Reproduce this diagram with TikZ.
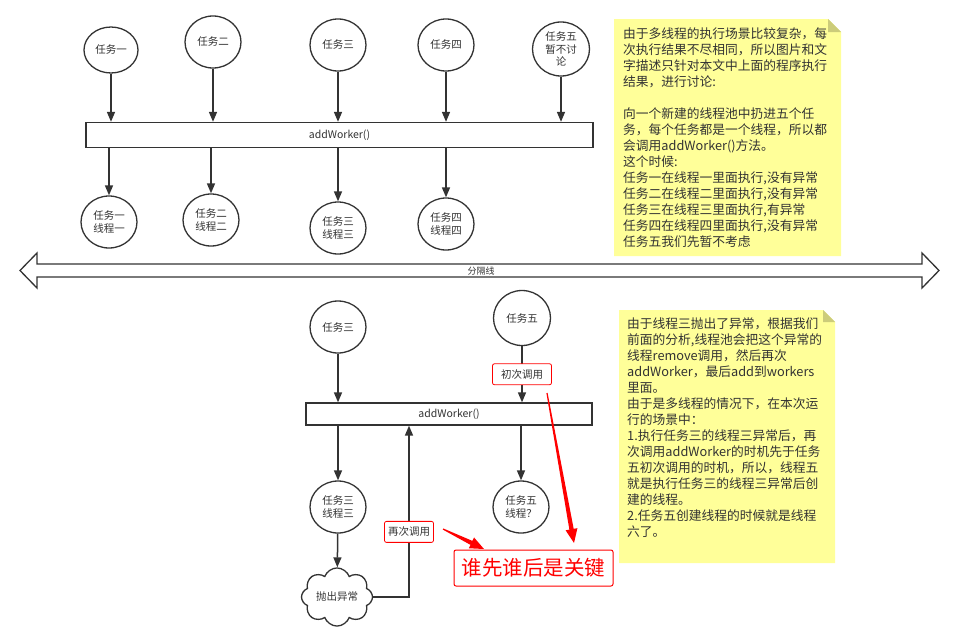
\documentclass[tikz,border=0pt]{standalone}
\usepackage{fontspec}
\setmainfont{Noto Sans CJK SC}
\usepackage{tikz}
\usetikzlibrary{arrows.meta,positioning,calc,shapes.geometric,shapes.symbols}
\definecolor{ink}{RGB}{51,51,51}
\definecolor{notefill}{RGB}{255,255,153}
\definecolor{notefold}{RGB}{204,204,122}
\definecolor{keyred}{RGB}{255,0,0}

% tapered red pointer: thin tail, wide head
\newcommand{\keyarrow}[2]{%
  \coordinate (hb) at ($(#2)!14pt!(#1)$);
  \fill[keyred] ($(#1)!0.6pt!90:(#2)$) -- ($(hb)!2.2pt!90:(#2)$)
    -- ($(hb)!6pt!90:(#2)$) -- (#2) -- ($(hb)!6pt!-90:(#2)$)
    -- ($(hb)!2.2pt!-90:(#2)$) -- ($(#1)!0.6pt!-90:(#2)$) -- cycle;}

\begin{document}
\begin{tikzpicture}[
  x=1pt, y=-1pt,
  task/.style={
    ellipse,
    draw=ink,
    line width=1.3pt,
    fill=white,
    minimum width=56pt,
    minimum height=52pt,
    inner sep=0pt,
    align=center,
    text=ink,
    font=\fontsize{10.5}{12.5}\selectfont
  },
  callbox/.style={
    draw=ink,
    line width=1.3pt,
    fill=white,
    minimum height=25pt,
    text=ink,
    font=\fontsize{10.5}{12.5}\selectfont
  },
  flow/.style={
    draw=ink,
    line width=1.5pt,
    -{Triangle[length=10pt,width=8pt]}
  },
  redtag/.style={
    draw=keyred,
    fill=white,
    line width=0.8pt,
    rounded corners=2pt,
    inner xsep=3pt,
    minimum height=21pt,
    text=ink,
    font=\fontsize{10.5}{12}\selectfont
  },
  keybox/.style={
    draw=keyred,
    line width=1pt,
    rounded corners=2pt,
    minimum width=159pt,
    minimum height=36pt,
    text=keyred,
    font=\fontsize{20.5}{24}\selectfont
  },
  notetext/.style={
    anchor=north west,
    align=left,
    inner sep=0pt,
    text=ink,
    font=\fontsize{12.75}{16}\selectfont
  }
]
\useasboundingbox (0,0) rectangle (963,635);

% upper part: five tasks into the pool
\node[task,minimum width=54pt,minimum height=46pt] (t1) at (111,50) {任务一};
\node[task] (t2) at (213,42) {任务二};
\node[task] (t3) at (338,45) {任务三};
\node[task] (t4) at (446,45) {任务四};
\node[task,minimum width=57pt,minimum height=54pt] (t5) at (561,49) {任务五\\暂不讨\\论};
\node[callbox,minimum width=507pt] (pool) at (339.5,135) {addWorker()};
\node[task] (r1) at (109,222) {任务一\\线程一};
\node[task] (r2) at (211,220) {任务二\\线程二};
\node[task] (r3) at (338,228) {任务三\\线程三};
\node[task] (r4) at (446,224) {任务四\\线程四};

\foreach \i in {1,...,5}
  \draw[flow] (t\i) -- (t\i |- pool.north);
\foreach \i in {1,...,4}
  \draw[flow] (r\i |- pool.south) -- (r\i);

% note on the right
\fill[notefill] (614,19) -- (828,19) -- (841,32) -- (841,256) -- (614,256) -- cycle;
\fill[notefold] (828,19) -- (841,32) -- (828,32) -- cycle;
\node[notetext] (note1) at (623,28) {由于多线程的执行场景比较复杂，每\\
次执行结果不尽相同，所以图片和文\\
字描述只针对本文中上面的程序执行\\
结果，进行讨论:\\[16pt]
向一个新建的线程池中扔进五个任\\
务，每个任务都是一个线程，所以都\\
会调用addWorker()方法。\\
这个时候:\\
任务一在线程一里面执行,没有异常\\
任务二在线程二里面执行,没有异常\\
任务三在线程三里面执行,有异常\\
任务四在线程四里面执行,没有异常\\
任务五我们先暂不考虑};

% separator
\draw[ink,line width=1.3pt,fill=white] (20,270.5) -- (37,253) -- (37,264) -- (922,264)
  -- (922,253) -- (939,270.5) -- (922,288) -- (922,277) -- (37,277) -- (37,288) -- cycle;
\node[text=ink,font=\fontsize{9}{10}\selectfont,inner sep=0pt] (sepl) at (481,271) {分隔线};

% lower part: task three fails, task five comes later
\node[task] (b3) at (338,327) {任务三};
\node[task,minimum width=57pt,minimum height=55pt] (b5) at (522,318) {任务五};
\node[callbox,minimum width=286pt,minimum height=22pt] (pool2) at (449,414) {addWorker()};
\node[task] (c3) at (338,507) {任务三\\线程三};
\node[task] (c5) at (521,507) {任务五\\线程？};
\node[cloud,cloud puffs=8,cloud puff arc=140,aspect=1.3,draw=ink,line width=1.3pt,
  minimum width=71pt,minimum height=52pt,inner sep=0pt,text=ink,
  font=\fontsize{10.5}{12.5}\selectfont] (err) at (337,597) {抛出异常};
\coordinate (back) at (409,0);

\draw[flow] (b3) -- (b3 |- pool2.north);
\draw[flow] (b5) -- node[redtag,minimum width=59pt] (first) {初次调用} (b5 |- pool2.north);
\draw[flow] (c3 |- pool2.south) -- (c3);
\draw[flow] (c5 |- pool2.south) -- (c5);
\draw[flow] (c3) -- (err);
\draw[flow] (err.east) -- (err.east -| back)
  -- node[redtag,minimum width=49pt,pos=0.38] (again) {再次调用} (back |- pool2.south);

\node[keybox] (key) at (533.5,568) {谁先谁后是关键};
\coordinate (tail1) at (443,529);
\coordinate (tip1) at (484,549);
\coordinate (tail2) at (547,393);
\coordinate (tip2) at (574,543);
\keyarrow{tail1}{tip1}
\keyarrow{tail2}{tip2}

% second note
\fill[notefill] (619,310) -- (823,310) -- (835,322) -- (835,563) -- (619,563) -- cycle;
\fill[notefold] (823,310) -- (835,322) -- (823,322) -- cycle;
\node[notetext] (note2) at (627,318) {由于线程三抛出了异常，根据我们\\
前面的分析,线程池会把这个异常的\\
线程remove调用，然后再次\\
addWorker，最后add到workers\\
里面。\\
由于是多线程的情况下，在本次运\\
行的场景中：\\
1.执行任务三的线程三异常后，再\\
次调用addWorker的时机先于任务\\
五初次调用的时机，所以，线程五\\
就是执行任务三的线程三异常后创\\
建的线程。\\
2.任务五创建线程的时候就是线程\\
六了。};
\end{tikzpicture}
\end{document}
